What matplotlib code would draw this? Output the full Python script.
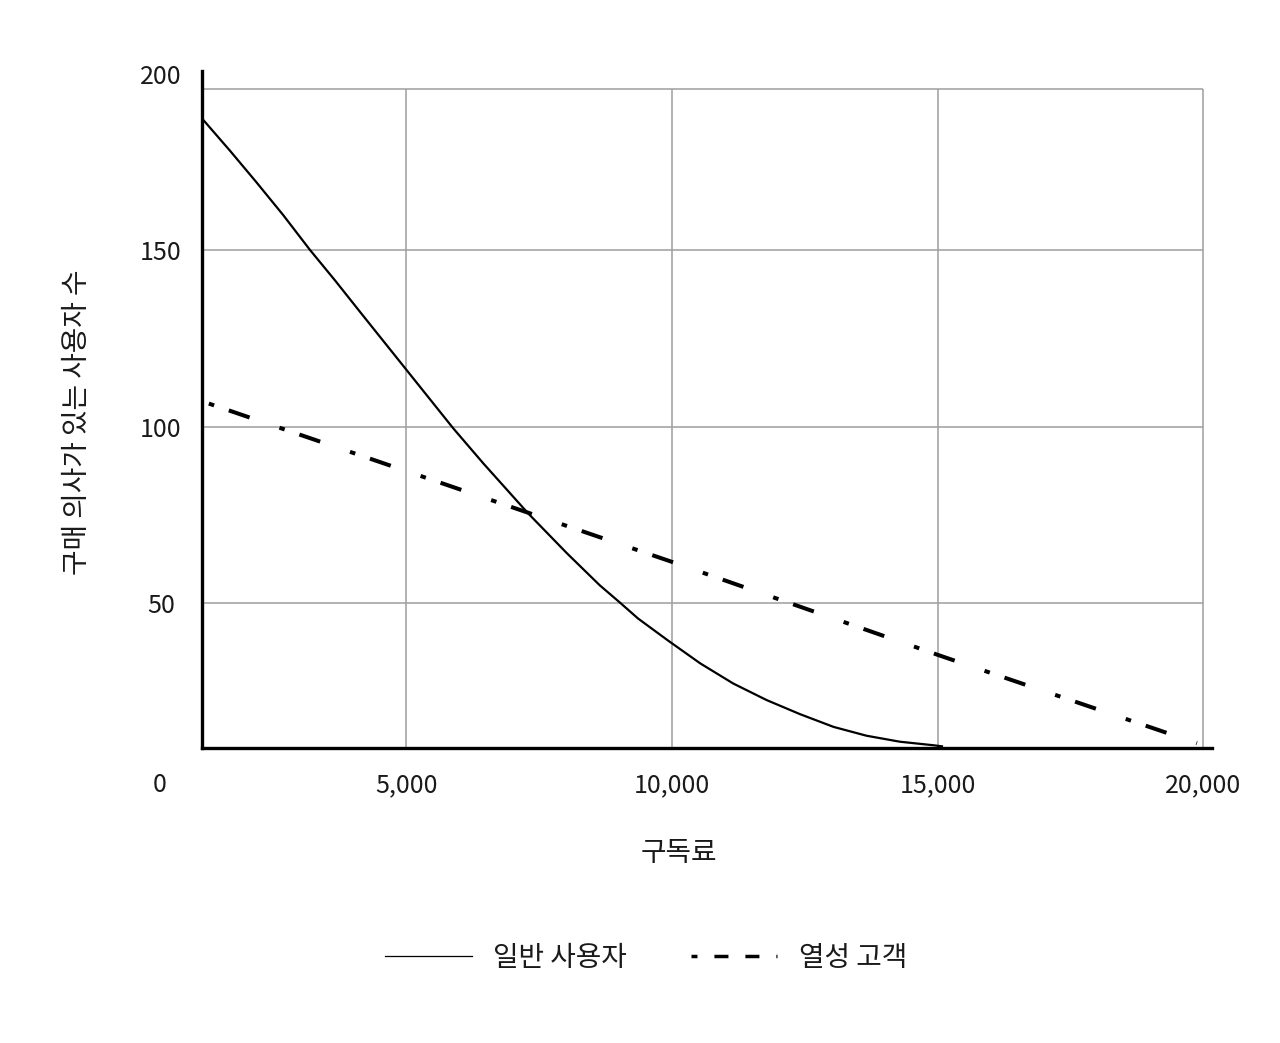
import matplotlib
matplotlib.use("Agg")
import matplotlib.pyplot as plt
from matplotlib.lines import Line2D

plt.rcParams['font.family'] = ['Noto Sans CJK KR', 'DejaVu Sans']
plt.rcParams['lines.scale_dashes'] = False  # dash lengths in points

# 일반 사용자
price_general = [1190, 1680, 2170, 2680, 3180, 3660, 4130, 4880, 5380, 5880,
                 6450, 7290, 8020, 8640, 9020, 9360, 9930, 10530, 11150,
                 11780, 12410, 13040, 13660, 14290, 14920, 15080]
users_general = [186.6, 178.1, 169.3, 159.9, 150.1, 141.3, 132.4, 118.3, 108.9,
                 99.5, 89.5, 75.4, 64.1, 55.0, 50.1, 45.6, 39.3, 32.9, 27.2,
                 22.5, 18.5, 14.9, 12.4, 10.7, 9.7, 9.4]

# 열성 고객
price_fan = [1280, 9930, 15080, 19880]
users_fan = [106.5, 62.0, 34.9, 10.3]

x_ticks = [5000, 10000, 15000, 20000]
x_tick_labels = ['5,000', '10,000', '15,000', '20,000']
y_ticks = [50, 100, 150, 200]
y_tick_labels = ['50', '100', '150', '200']
grid_y = [50, 100, 150]

label_general = '일반 사용자'
label_fan = '열성 고객'

TEXT = '#1a1a1a'
GRID = '#9e9e9e'
FS_NUM = 18   # tick numbers
FS_KO = 20    # korean labels / legend

fig = plt.figure(figsize=(12.8, 10.43), dpi=100)
ax = fig.add_axes([0.1576, 0.2831, 0.789, 0.6491])

x_min, x_max = 1146, 20157
y_min, y_max = 9.0, 200.8
grid_top = 195.6  # top edge of the grey grid box
ax.set_xlim(x_min, x_max)
ax.set_ylim(y_min, y_max)

# grey grid box (stops at 20,000 / grid_top, not at the axes edge)
ax.vlines(x_ticks, y_min, grid_top, color=GRID, lw=1.1, zorder=1)
ax.hlines(grid_y + [grid_top], x_min, x_ticks[-1], color=GRID, lw=1.1, zorder=1)

ax.plot(price_general, users_general, color='black', lw=1.6,
        solid_joinstyle='round', zorder=3)
ax.plot(price_fan, users_fan, color='black', lw=2.9,
        linestyle=(0, (4.0, 11.2, 15.8, 22.7)), zorder=3)

for side in ['top', 'right']:
    ax.spines[side].set_visible(False)
for side in ['left', 'bottom']:
    ax.spines[side].set_linewidth(2.4)
    ax.spines[side].set_color('black')
    ax.spines[side].set_zorder(4)

ax.set_xticks(x_ticks)
ax.set_xticklabels(x_tick_labels)
ax.set_yticks(y_ticks)
ax.set_yticklabels(y_tick_labels)
ax.tick_params(axis='x', length=0, pad=26.9, labelsize=FS_NUM, labelcolor=TEXT)
ax.tick_params(axis='y', length=0, pad=29.3, labelsize=FS_NUM, labelcolor=TEXT)
for t in ax.get_xticklabels():
    t.set_va('center')
for t in ax.get_yticklabels():
    t.set_ha('center')

# origin label sits under the corner
ax.annotate('0', xy=(0, 0), xycoords='axes fraction', xytext=(-41.7, -37.3),
            textcoords='offset pixels', ha='center', va='center',
            fontsize=FS_NUM, color=TEXT)

ax.set_xlabel('구독료', fontsize=FS_KO, color=TEXT, va='center')
ax.xaxis.set_label_coords(0.4726, -0.1555)
ax.set_ylabel('구매 의사가 있는 사용자 수', fontsize=FS_KO, color=TEXT, va='center')
ax.yaxis.set_label_coords(-0.1235, 0.481)

handles = [
    Line2D([], [], color='black', lw=0.9),
    Line2D([], [], color='black', lw=2.5, linestyle=(5.8, (10.1, 12.2))),
]
leg = fig.legend(handles, [label_general, label_fan], loc='center',
                 bbox_to_anchor=(0.505, 0.0815), ncol=2, frameon=False,
                 fontsize=FS_KO, handlelength=3.1, handletextpad=0.79,
                 columnspacing=2.3)
for t in leg.get_texts():
    t.set_color(TEXT)

fig.savefig('out.png', dpi=100)
